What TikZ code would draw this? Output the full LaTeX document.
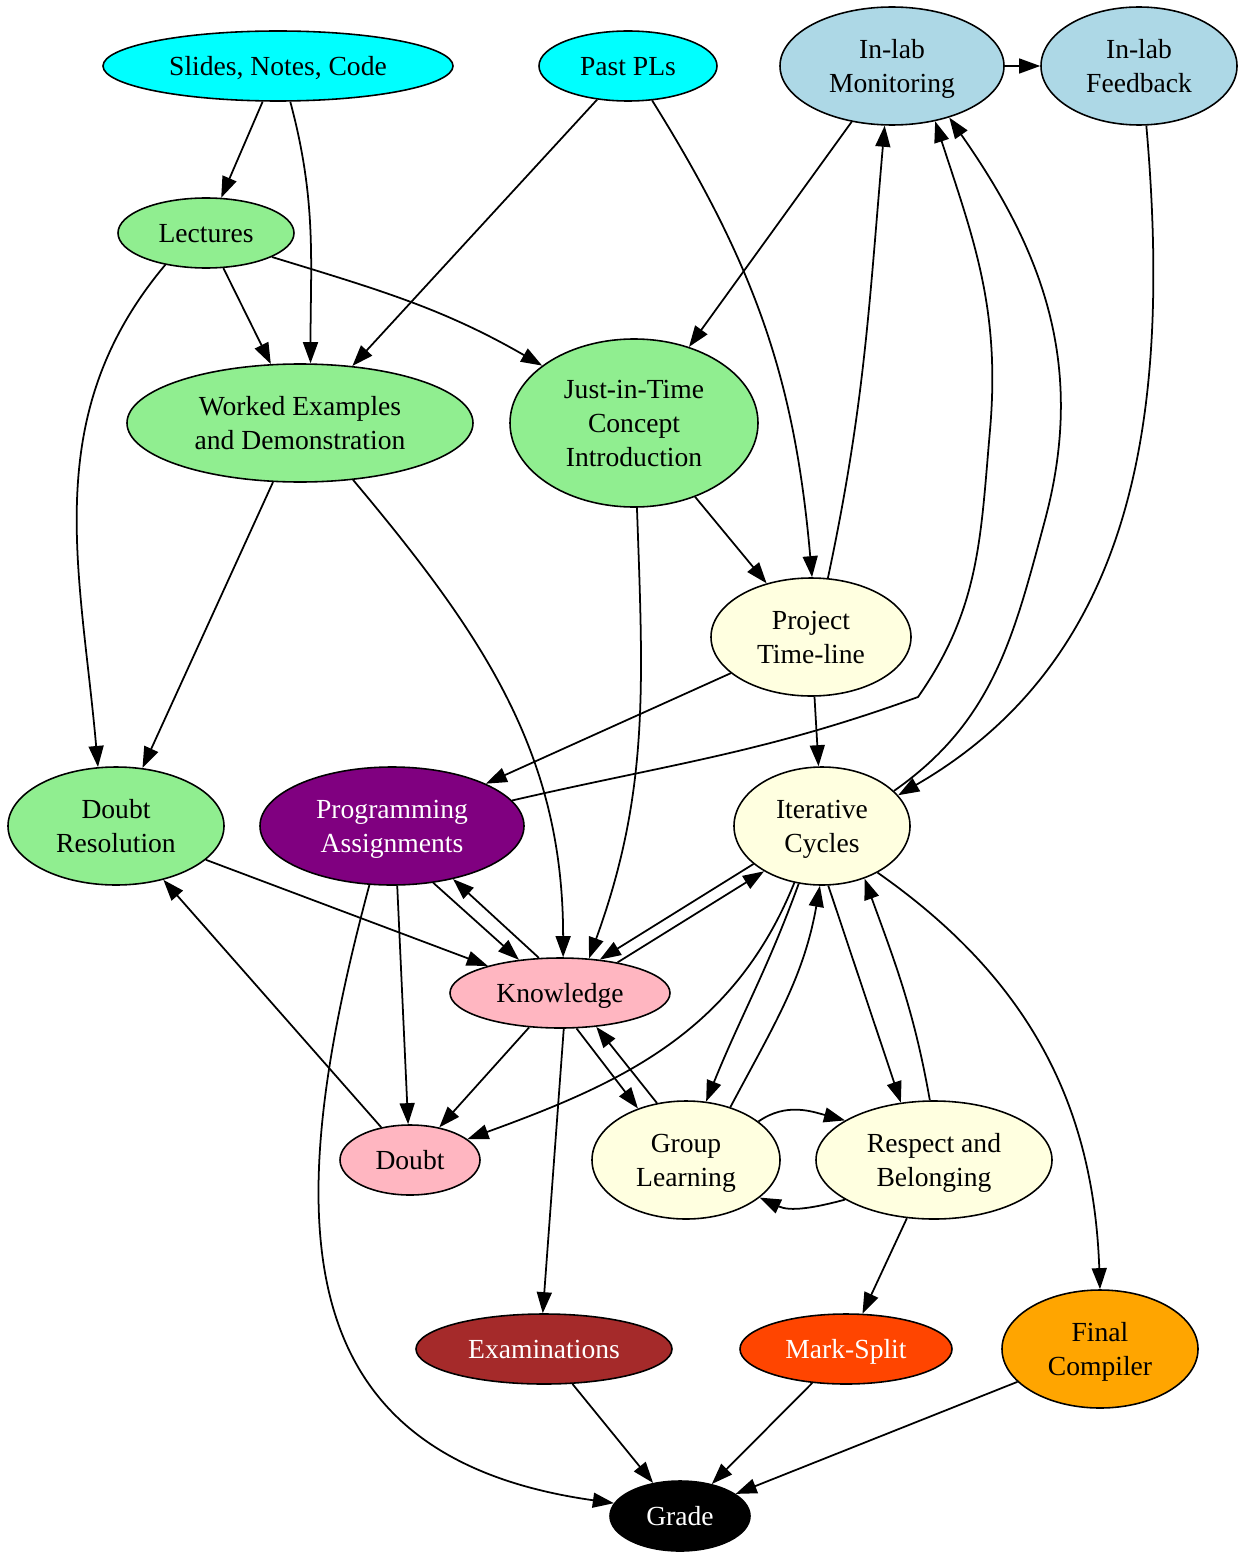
\documentclass[tikz,border=0pt]{standalone}
\usepackage{fontspec}
\setmainfont{Liberation Serif}
\usetikzlibrary{arrows.meta,shapes.geometric}
\definecolor{GvCyan}{HTML}{00FFFF}
\definecolor{GvLightBlue}{HTML}{ADD8E6}
\definecolor{GvLightGreen}{HTML}{90EE90}
\definecolor{GvLightYellow}{HTML}{FFFFE0}
\definecolor{GvPurple}{HTML}{800080}
\definecolor{GvPink}{HTML}{FFB6C1}
\definecolor{GvBrown}{HTML}{A52A2A}
\definecolor{GvOrangeRed}{HTML}{FF4500}
\definecolor{GvOrange}{HTML}{FFA500}

\begin{document}
\begin{tikzpicture}[x=0.2mm,y=0.2mm,>=Triangle]
  \tikzset{
    topic/.style={ellipse,draw,line width=.9pt,inner sep=0pt,align=center,text depth=0pt,
      font=\fontsize{15.7}{19.3}\selectfont},
    oneline/.style={minimum height=14mm},
    twoline/.style={minimum height=23.6mm},
    flow/.style={-{Triangle[length=12pt,width=8.5pt]},line width=1pt}
  }
  \useasboundingbox (0,0) rectangle (1246,-1561);
  % sources and lab
  \node[topic,oneline,fill=GvCyan,minimum width=70mm] (slides) at (278,-66) {Slides, Notes, Code};
  \node[topic,oneline,fill=GvCyan,minimum width=35.6mm] (pastpl) at (628,-66) {Past PLs};
  \node[topic,twoline,fill=GvLightBlue,minimum width=44.8mm] (monitor) at (892,-66) {In-lab\\Monitoring};
  \node[topic,twoline,fill=GvLightBlue,minimum width=39.2mm] (feedback) at (1139,-66) {In-lab\\Feedback};
  % teaching
  \node[topic,oneline,fill=GvLightGreen,minimum width=35.2mm] (lectures) at (206,-233) {Lectures};
  \node[topic,twoline,fill=GvLightGreen,minimum width=69.2mm] (worked) at (300,-423) {Worked Examples\\and Demonstration};
  \node[topic,fill=GvLightGreen,minimum width=49.6mm,minimum height=33.6mm] (jit) at (634,-423) {Just-in-Time\\Concept\\Introduction};
  \node[topic,twoline,fill=GvLightYellow,minimum width=40mm] (timeline) at (811,-637) {Project\\Time-line};
  \node[topic,twoline,fill=GvLightGreen,minimum width=43.2mm] (doubtres) at (116,-826) {Doubt\\Resolution};
  \node[topic,twoline,fill=GvPurple,text=white,minimum width=52.8mm] (progass) at (392,-826) {Programming\\Assignments};
  \node[topic,twoline,fill=GvLightYellow,minimum width=35.2mm] (iterative) at (822,-826) {Iterative\\Cycles};
  % learning
  \node[topic,oneline,fill=GvPink,minimum width=44mm] (knowledge) at (560,-993) {Knowledge};
  \node[topic,oneline,fill=GvPink,minimum width=28mm] (doubt) at (410,-1160) {Doubt};
  \node[topic,twoline,fill=GvLightYellow,minimum width=37.6mm] (group) at (686,-1160) {Group\\Learning};
  \node[topic,twoline,fill=GvLightYellow,minimum width=47.2mm] (respect) at (934,-1160) {Respect and\\Belonging};
  % assessment
  \node[topic,oneline,fill=GvBrown,text=white,minimum width=51.2mm] (exams) at (544,-1349) {Examinations};
  \node[topic,oneline,fill=GvOrangeRed,text=white,minimum width=42.4mm] (marksplit) at (846,-1349) {Mark-Split};
  \node[topic,twoline,fill=GvOrange,minimum width=39.2mm] (final) at (1100,-1349) {Final\\Compiler};
  \node[topic,oneline,fill=black,text=white,minimum width=28mm] (grade) at (680,-1516) {Grade};

  \draw[flow] (slides) -- (lectures);
  \draw[flow] (slides.-71) to[out=-75,in=90] (worked.80);
  \draw[flow] (pastpl) -- (worked);
  \draw[flow] (pastpl.-55) to[out=-58,in=95] (timeline.89);
  \draw[flow] (monitor) -- (feedback);
  \draw[flow] (monitor) -- (jit);
  \draw[flow] (feedback.-83) to[out=-85,in=30] (iterative.22);
  \draw[flow] (lectures) -- (worked);
  \draw[flow] (lectures.-20) to[out=-17,in=150] (jit.148);
  \draw[flow] (lectures.-142) to[out=-130,in=95] (doubtres.107);
  \draw[flow] (worked) -- (doubtres);
  \draw[flow] (worked.-47) to[out=-50,in=90] (knowledge.85);
  \draw[flow] (jit) -- (timeline);
  \draw[flow] (jit.-88) to[out=-88,in=70] (knowledge.50);
  \draw[flow] (timeline.74) to[out=78,in=-95] (monitor.-97);
  \draw[flow] (timeline) -- (progass);
  \draw[flow] (timeline) -- (iterative);
  \draw[flow] (progass.12) to[out=13,in=-160] (918,-697) to[out=55,in=-95] (990,-430)
    to[out=85,in=-72] (monitor.-52);
  \draw[flow] (iterative.26) to[out=35,in=-105] (1045,-520) to[out=75,in=-55] (monitor.-42);
  \draw[flow] (doubtres) -- (knowledge);
  \draw[flow] (progass.-54) -- (knowledge.141);
  \draw[flow] (knowledge.121) -- (progass.-41);
  \draw[flow] (progass.-85) -- (doubt.93);
  \draw[flow] (progass.-111) to[out=-105,in=172,looseness=1.3] (grade.169);
  \draw[flow] (iterative.-151) -- (knowledge.40);
  \draw[flow] (knowledge.28) -- (iterative.-142);
  \draw[flow] (iterative.-116) to[out=-112,in=20] (doubt.20);
  \draw[flow] (iterative.-112) to[out=-110,in=68] (group.71);
  \draw[flow] (group.50) to[out=62,in=-100] (iterative.-92);
  \draw[flow] (iterative.-84) -- (respect.120);
  \draw[flow] (respect.94) to[out=100,in=-70] (iterative.-51);
  \draw[flow] (iterative.-40) to[out=-35,in=92] (final.90);
  \draw[flow] (knowledge) -- (doubt);
  \draw[flow] (knowledge.-65) -- (group.133);
  \draw[flow] (group.117) -- (knowledge.-43);
  \draw[flow] (knowledge.-84) -- (exams.92);
  \draw[flow] (doubt) -- (doubtres);
  \draw[flow] (group.28) to[out=35,in=165] (respect.156);
  \draw[flow] (respect.-156) to[out=-165,in=-25] (group.-27);
  \draw[flow] (respect) -- (marksplit);
  \draw[flow] (exams) -- (grade);
  \draw[flow] (marksplit) -- (grade);
  \draw[flow] (final) -- (grade);
\end{tikzpicture}
\end{document}
